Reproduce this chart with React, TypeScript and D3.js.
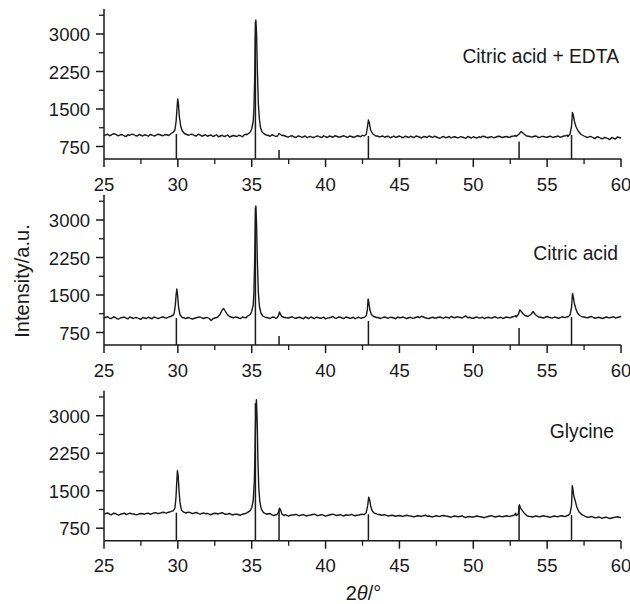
import React from "react";
import * as d3 from "d3";

// ---------- data ----------
const BASE_START = 25;
const BASE_STEP = 0.25;
const MID_START = 25.125;

const xMajorTicks = [25, 30, 35, 40, 45, 50, 55, 60];
const xMinorTicks = [27.5, 32.5, 37.5, 42.5, 47.5, 52.5, 57.5];
const yMajorTicks = [750, 1500, 2250, 3000];
const yMinorTicks = [1125, 1875, 2625, 3375];

const sampleNames = ["Citric acid + EDTA", "Citric acid", "Glycine"];

// background scans, 25° to 60° every 0.25°
const edtaBase = [
  960, 995, 980, 1000, 965, 985, 950, 975, 990, 960, 975, 985, 955, 980, 970, 990,
  965, 985, 1000, 1030, 1700, 1100, 1000, 975, 990, 960, 985, 970, 955, 980, 965, 945,
  975, 960, 940, 970, 950, 965, 985, 1000, 1100, 2900, 1300, 1030, 980, 955, 970, 960,
  990, 960, 940, 965, 930, 955, 945, 925, 950, 935, 960, 930, 945, 960, 935, 955,
  940, 965, 930, 950, 940, 960, 975, 990, 1150, 990, 960, 950, 935, 955, 940, 930,
  960, 925, 945, 955, 930, 950, 920, 945, 960, 930, 940, 915, 950, 935, 920, 945,
  925, 940, 915, 935, 945, 920, 930, 950, 925, 945, 935, 955, 930, 950, 940, 960,
  980, 1050, 985, 955, 940, 960, 930, 950, 935, 955, 940, 960, 945, 965, 990, 1400,
  1100, 1000, 955, 930, 945, 910, 935, 905, 925, 890, 915, 940, 920,
];
const citricBase = [
  1040, 1065, 1030, 1055, 1020, 1050, 1035, 1060, 1030, 1045, 1015, 1040, 1055, 1025, 1050, 1035,
  1060, 1040, 1070, 1090, 1620, 1080, 1030, 1050, 1020, 1045, 1060, 1030, 1050, 990, 1040, 1060,
  1220, 1100, 1060, 1040, 1055, 1030, 1050, 1070, 1120, 2900, 1300, 1080, 1050, 1030, 1060, 1040,
  1080, 1050, 1040, 1065, 1035, 1055, 1025, 1045, 1060, 1030, 1050, 1040, 1020, 1045, 1070, 1035,
  1055, 1030, 1050, 1040, 1025, 1055, 1045, 1070, 1300, 1090, 1050, 1030, 1060, 1035, 1050, 1025,
  1045, 1060, 1030, 1055, 1040, 1065, 1075, 1045, 1030, 1055, 1040, 1060, 1035, 1050, 1070, 1045,
  1060, 1040, 1080, 1055, 1035, 1060, 1045, 1030, 1055, 1040, 1065, 1045, 1030, 1060, 1045, 1070,
  1150, 1140, 1090, 1080, 1170, 1090, 1060, 1040, 1070, 1045, 1060, 1035, 1065, 1050, 1080, 1450,
  1150, 1080, 1060, 1045, 1070, 1035, 1055, 1030, 1060, 1045, 1065, 1050, 1070,
];
const glycineBase = [
  1030, 1055, 1020, 1045, 1010, 1040, 1025, 1050, 1035, 1020, 1045, 1030, 1050, 1040, 1060, 1045,
  1070, 1055, 1080, 1100, 1900, 1090, 1060, 1070, 1040, 1065, 1030, 1055, 1045, 1020, 1050, 1035,
  1060, 1030, 1045, 1015, 1030, 1010, 1040, 1060, 1130, 3000, 1350, 1060, 1030, 1045, 1000, 1030,
  1120, 1020, 990, 1015, 1025, 1000, 1020, 995, 1015, 1030, 1000, 1020, 990, 1015, 1030, 1005,
  1020, 995, 1010, 1025, 1000, 1015, 1030, 1050, 1300, 1060, 1030, 1010, 1020, 995, 1010, 990,
  1005, 985, 1010, 995, 980, 1000, 985, 1010, 995, 975, 1000, 985, 1005, 990, 970, 995,
  980, 995, 965, 985, 975, 995, 980, 960, 985, 1000, 975, 995, 980, 1000, 985, 1010,
  1200, 1060, 1010, 990, 975, 995, 980, 1000, 985, 970, 995, 980, 1000, 985, 1020, 1600,
  1150, 1030, 990, 970, 985, 960, 975, 950, 970, 945, 965, 980, 960,
];

// in-between readings, 25.125° to 59.875° every 0.25°
const edtaMid = [
  985, 965, 1005, 975, 990, 960, 985, 995, 970, 990, 960, 975, 990, 960, 995, 975,
  990, 970, 1010, 1060, 1400, 1040, 985, 995, 970, 995, 955, 985, 970, 950, 985, 960,
  950, 980, 955, 960, 975, 945, 995, 1020, 1500, 1800, 1100, 1000, 970, 985, 950, 980,
  975, 945, 960, 940, 960, 935, 960, 945, 930, 955, 940, 965, 930, 950, 965, 940,
  955, 945, 960, 935, 965, 945, 985, 1100, 1050, 975, 945, 960, 950, 925, 960, 945,
  940, 955, 930, 940, 960, 935, 950, 930, 945, 955, 925, 940, 925, 950, 940, 930,
  945, 925, 950, 920, 930, 945, 955, 935, 940, 925, 950, 940, 945, 935, 955, 970,
  1020, 1010, 960, 945, 955, 935, 950, 940, 950, 930, 950, 935, 960, 975, 1030, 1200,
  1040, 975, 940, 950, 925, 945, 915, 930, 905, 930, 900, 930,
];
const citricMid = [
  1055, 1035, 1060, 1025, 1045, 1060, 1025, 1045, 1050, 1025, 1050, 1030, 1040, 1060, 1030, 1055,
  1045, 1060, 1075, 1150, 1300, 1050, 1040, 1030, 1035, 1055, 1040, 1045, 1030, 1025, 1050, 1080,
  1230, 1080, 1050, 1060, 1040, 1060, 1045, 1090, 1600, 1700, 1150, 1060, 1040, 1055, 1035, 1065,
  1070, 1045, 1055, 1040, 1050, 1040, 1060, 1030, 1045, 1055, 1035, 1060, 1040, 1055, 1040, 1060,
  1040, 1060, 1035, 1055, 1045, 1035, 1060, 1120, 1180, 1065, 1040, 1050, 1045, 1055, 1040, 1060,
  1050, 1040, 1045, 1035, 1055, 1050, 1060, 1035, 1045, 1040, 1055, 1045, 1060, 1040, 1055, 1060,
  1050, 1065, 1045, 1040, 1050, 1040, 1055, 1045, 1045, 1055, 1040, 1055, 1045, 1050, 1060, 1090,
  1180, 1120, 1075, 1110, 1140, 1070, 1050, 1055, 1055, 1040, 1050, 1045, 1055, 1070, 1120, 1300,
  1110, 1070, 1050, 1060, 1050, 1045, 1040, 1045, 1050, 1055, 1040, 1060,
];
const glycineMid = [
  1045, 1030, 1050, 1025, 1030, 1050, 1035, 1040, 1025, 1035, 1040, 1045, 1030, 1055, 1045, 1060,
  1060, 1070, 1090, 1200, 1600, 1070, 1065, 1055, 1055, 1045, 1045, 1040, 1030, 1040, 1045, 1050,
  1040, 1035, 1025, 1030, 1020, 1030, 1050, 1090, 1800, 1900, 1150, 1040, 1040, 1015, 1020, 1060,
  1060, 1005, 1010, 1020, 1010, 1015, 1005, 1010, 1025, 1010, 1015, 1005, 1005, 1025, 1015, 1015,
  1005, 1020, 1015, 1010, 1010, 1025, 1040, 1150, 1150, 1045, 1020, 1015, 1005, 1005, 1000, 1000,
  995, 1000, 1000, 985, 990, 995, 1000, 990, 985, 990, 990, 1000, 995, 980, 985, 985,
  990, 975, 980, 975, 985, 985, 970, 975, 995, 985, 985, 985, 990, 990, 1000, 1050,
  1120, 1030, 1000, 985, 985, 985, 990, 990, 975, 985, 985, 995, 990, 1005, 1100, 1350,
  1080, 1010, 980, 975, 970, 965, 960, 965, 955, 955, 970, 970,
];

// finely sampled reflections [2θ, intensity]
const edtaPeaks = [
  [[29.5, 1000], [29.7, 1040], [29.8, 1080], [29.88, 1250], [29.94, 1500], [29.99, 1700], [30.04, 1600], [30.1, 1350], [30.2, 1150], [30.3, 1060], [30.45, 1010], [30.6, 990]],
  [[34.7, 990], [34.9, 1040], [35.0, 1100], [35.1, 1250], [35.15, 1500], [35.2, 2100], [35.24, 2900], [35.28, 3280], [35.33, 3000], [35.38, 2300], [35.45, 1600], [35.52, 1300], [35.6, 1120], [35.7, 1040], [35.85, 1000], [36.0, 980]],
  [[36.75, 960], [36.85, 1010], [36.95, 990], [37.05, 970]],
  [[42.6, 960], [42.75, 990], [42.84, 1150], [42.9, 1280], [42.96, 1220], [43.05, 1080], [43.2, 1000], [43.4, 960]],
  [[52.9, 950], [53.1, 1000], [53.25, 1050], [53.4, 1010], [53.6, 960]],
  [[56.4, 950], [56.55, 1000], [56.65, 1150], [56.71, 1430], [56.77, 1380], [56.85, 1250], [56.95, 1150], [57.1, 1060], [57.3, 990], [57.5, 960]],
];
const citricPeaks = [
  [[29.5, 1070], [29.65, 1090], [29.75, 1130], [29.83, 1300], [29.88, 1500], [29.93, 1620], [29.98, 1500], [30.05, 1250], [30.15, 1100], [30.3, 1050], [30.45, 1040]],
  [[32.7, 1060], [32.85, 1110], [33.0, 1200], [33.1, 1230], [33.2, 1180], [33.35, 1110], [33.5, 1070], [33.7, 1050]],
  [[34.7, 1070], [34.9, 1110], [35.0, 1170], [35.1, 1300], [35.15, 1550], [35.2, 2200], [35.25, 3000], [35.28, 3280], [35.33, 2900], [35.38, 2200], [35.45, 1550], [35.52, 1280], [35.62, 1140], [35.75, 1080], [35.95, 1050]],
  [[36.7, 1040], [36.8, 1080], [36.88, 1160], [36.95, 1110], [37.05, 1070], [37.2, 1050]],
  [[42.6, 1050], [42.75, 1080], [42.83, 1200], [42.88, 1420], [42.93, 1350], [43.0, 1200], [43.1, 1110], [43.25, 1070], [43.45, 1050]],
  [[52.9, 1060], [53.05, 1110], [53.15, 1200], [53.25, 1170], [53.35, 1130], [53.5, 1090], [53.7, 1070], [53.9, 1110], [54.05, 1170], [54.2, 1110], [54.4, 1060]],
  [[56.4, 1060], [56.55, 1100], [56.65, 1250], [56.72, 1530], [56.78, 1450], [56.85, 1320], [56.95, 1220], [57.05, 1140], [57.2, 1090], [57.4, 1060]],
];
const glycinePeaks = [
  [[29.5, 1080], [29.7, 1100], [29.8, 1150], [29.87, 1350], [29.93, 1700], [29.97, 1900], [30.02, 1800], [30.08, 1500], [30.15, 1250], [30.25, 1110], [30.4, 1070], [30.55, 1050]],
  [[34.7, 1060], [34.9, 1100], [35.0, 1160], [35.1, 1300], [35.18, 1700], [35.23, 2400], [35.28, 3100], [35.32, 3320], [35.37, 2900], [35.42, 2100], [35.48, 1550], [35.55, 1280], [35.65, 1130], [35.8, 1060], [36.0, 1030]],
  [[36.7, 1020], [36.8, 1060], [36.88, 1150], [36.95, 1120], [37.05, 1030], [37.2, 1000]],
  [[42.6, 1020], [42.75, 1060], [42.85, 1200], [42.92, 1370], [42.98, 1320], [43.05, 1200], [43.15, 1100], [43.3, 1050], [43.5, 1030], [43.7, 1020]],
  [[52.9, 1000], [53.05, 1030], [53.12, 1220], [53.2, 1150], [53.3, 1110], [53.45, 1050], [53.6, 1010]],
  [[56.4, 1000], [56.55, 1040], [56.65, 1200], [56.7, 1600], [56.75, 1520], [56.8, 1400], [56.9, 1300], [57.0, 1180], [57.15, 1080], [57.35, 1020], [57.55, 990]],
];

// reference pattern sticks [2θ, top intensity]
const edtaSticks = [[29.9, 1000], [35.25, 3250], [36.85, 680], [42.9, 960], [53.1, 850], [56.65, 980]];
const citricSticks = [[29.9, 1040], [35.25, 3250], [36.85, 680], [42.9, 980], [53.1, 840], [56.65, 1060]];
const glycineSticks = [[29.9, 1060], [35.25, 3250], [36.85, 1120], [42.9, 1030], [53.1, 1200], [56.65, 1010]];

// ---------- layout ----------
const W = 630;
const H = 604;
const LEFT = 104;
const RIGHT = 621;
const PANEL_H = 150;
const PANEL_BOTTOMS = [159, 345, 540.7];
const LABEL_POS = [
  { x: 619, y: 63 },
  { x: 618, y: 260 },
  { x: 614, y: 438 },
];
const FONT = "'Liberation Sans', Arial, Helvetica, sans-serif";
const INK = "#1a1a1a";

function merge(base: number[], mid: number[], peaks: number[][][]) {
  const pts = [
    ...base.map((v, i) => [BASE_START + i * BASE_STEP, v]),
    ...mid.map((v, i) => [MID_START + i * BASE_STEP, v]),
  ];
  const ranges = peaks.map((p) => [p[0][0], p[p.length - 1][0]]);
  const kept = pts.filter(([a]) => !ranges.some(([lo, hi]) => a >= lo && a <= hi));
  return [...kept, ...peaks.flat()].sort((a, b) => a[0] - b[0]);
}

const panels = [
  { name: sampleNames[0], data: merge(edtaBase, edtaMid, edtaPeaks), sticks: edtaSticks },
  { name: sampleNames[1], data: merge(citricBase, citricMid, citricPeaks), sticks: citricSticks },
  { name: sampleNames[2], data: merge(glycineBase, glycineMid, glycinePeaks), sticks: glycineSticks },
];

const x = d3.scaleLinear().domain([25, 60]).range([LEFT, RIGHT]);

function Panel({ idx }: { idx: number }) {
  const p = panels[idx];
  const bottom = PANEL_BOTTOMS[idx];
  const y = d3.scaleLinear().domain([500, 3500]).range([bottom, bottom - PANEL_H]);
  const line = d3
    .line<number[]>()
    .x((d) => x(d[0]))
    .y((d) => y(d[1]));
  return (
    <g>
      {p.sticks.map((s, i) => (
        <line key={"s" + i} x1={x(s[0])} x2={x(s[0])} y1={y(500)} y2={y(s[1])} stroke={INK} strokeWidth={1.5} />
      ))}
      <path d={line(p.data) || ""} fill="none" stroke={INK} strokeWidth={1.4} strokeLinejoin="round" />
      <line x1={LEFT} x2={RIGHT} y1={bottom} y2={bottom} stroke={INK} strokeWidth={1.5} />
      <line x1={LEFT} x2={LEFT} y1={bottom} y2={y(3500)} stroke={INK} strokeWidth={1.5} />
      {xMajorTicks.map((t) => (
        <g key={"xm" + t}>
          <line x1={x(t)} x2={x(t)} y1={bottom} y2={bottom + 8} stroke={INK} strokeWidth={1.5} />
          <text x={x(t)} y={bottom + 31.5} textAnchor="middle" fontSize={18.5} fontFamily={FONT} fill={INK}>
            {t}
          </text>
        </g>
      ))}
      {xMinorTicks.map((t) => (
        <line key={"xn" + t} x1={x(t)} x2={x(t)} y1={bottom} y2={bottom + 5} stroke={INK} strokeWidth={1.3} />
      ))}
      {yMajorTicks.map((t) => (
        <g key={"ym" + t}>
          <line x1={LEFT} x2={LEFT - 8} y1={y(t)} y2={y(t)} stroke={INK} strokeWidth={1.5} />
          <text x={LEFT - 14} y={y(t) + 7} textAnchor="end" fontSize={18.5} fontFamily={FONT} fill={INK}>
            {t}
          </text>
        </g>
      ))}
      {yMinorTicks.map((t) => (
        <line key={"yn" + t} x1={LEFT} x2={LEFT - 5} y1={y(t)} y2={y(t)} stroke={INK} strokeWidth={1.3} />
      ))}
      <text x={LABEL_POS[idx].x} y={LABEL_POS[idx].y} textAnchor="end" fontSize={19.3} fontFamily={FONT} fill={INK}>
        {p.name}
      </text>
    </g>
  );
}

export default function App() {
  return (
    <svg
      width={W}
      height={H}
      viewBox={`0 0 ${W} ${H}`}
      style={{ position: "absolute", left: 0, top: 0, background: "#fff" }}
    >
      <rect x={0} y={0} width={W} height={H} fill="#fff" />
      {panels.map((_, i) => (
        <Panel key={i} idx={i} />
      ))}
      <text
        transform="translate(29,281) rotate(-90)"
        textAnchor="middle"
        fontSize={20}
        fontFamily={FONT}
        fill={INK}
      >
        Intensity/a.u.
      </text>
      <text x={363.5} y={600} textAnchor="middle" fontSize={20} fontFamily={FONT} fill={INK}>
        2<tspan fontStyle="italic">θ</tspan>/°
      </text>
    </svg>
  );
}
